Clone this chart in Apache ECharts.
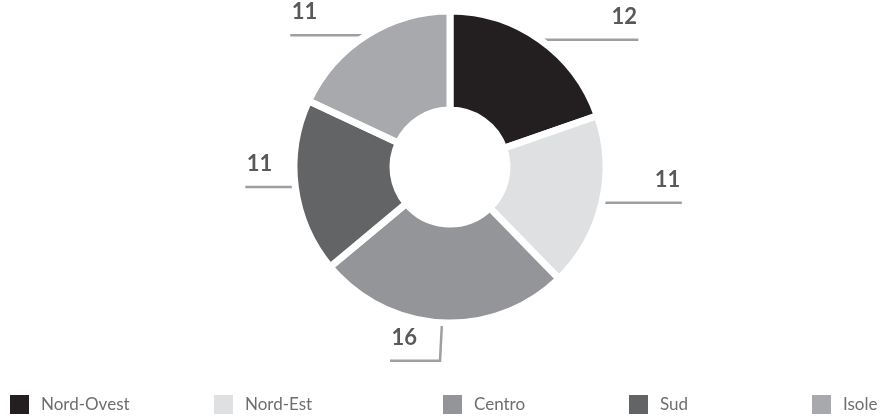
<!DOCTYPE html>
<html>
<head>
<meta charset="utf-8">
<style>
  html, body { margin: 0; padding: 0; background: #fff; }
  #chart { width: 884px; height: 417px; }
</style>
<script src="https://cdn.jsdelivr.net/npm/echarts@6/dist/echarts.min.js"></script>
</head>
<body>
<div id="chart"></div>
<script>
// dati
const regions = ["Nord-Ovest", "Nord-Est", "Centro", "Sud", "Isole"];
const values = [12, 11, 16, 11, 11];
const colors = ["#231f20", "#dfe0e1", "#939598", "#636466", "#a7a9ac"];

// lunghezza dei segmenti delle etichette, per fetta
const labelLines = [
  { length: 0, length2: 98 },
  { length: 0, length2: 80 },
  { length: 38, length2: 50 },
  { length: 0, length2: 50 },
  { length: 0, length2: 76 }
];

// posizione legenda (una per voce)
const legendLeft = [8, 212, 441, 627, 810];

const chart = echarts.init(document.getElementById("chart"));

const option = {
  animation: false,
  textStyle: { fontFamily: "Lato, sans-serif" },
  legend: regions.map((name, i) => ({
    data: [name],
    left: legendLeft[i],
    top: 393,
    padding: 0,
    icon: "rect",
    itemWidth: 21,
    itemHeight: 21,
    selectedMode: false,
    textStyle: { fontFamily: "Lato", fontSize: 17, color: "#6d6e71", padding: [0, 0, 0, 6] }
  })),
  series: [{
    type: "pie",
    center: [450, 167],
    radius: [57, 156],
    startAngle: 90,
    clockwise: true,
    avoidLabelOverlap: false,
    itemStyle: { borderColor: "#fff", borderWidth: 7 },
    label: {
      show: true,
      // seconda riga vuota: il numero resta sopra la linea
      formatter: "{c}\n ",
      fontFamily: "Lato",
      fontWeight: "bold",
      fontSize: 22,
      lineHeight: 46,
      color: "#58595b",
      distanceToLabelLine: -27
    },
    labelLine: {
      show: true,
      lineStyle: { color: "#9d9fa2", width: 2.5 }
    },
    emphasis: { disabled: true },
    data: regions.map((name, i) => ({
      name: name,
      value: values[i],
      itemStyle: { color: colors[i] },
      labelLine: labelLines[i]
    }))
  }]
};

chart.setOption(option);
window.addEventListener("resize", () => chart.resize());
</script>
</body>
</html>
